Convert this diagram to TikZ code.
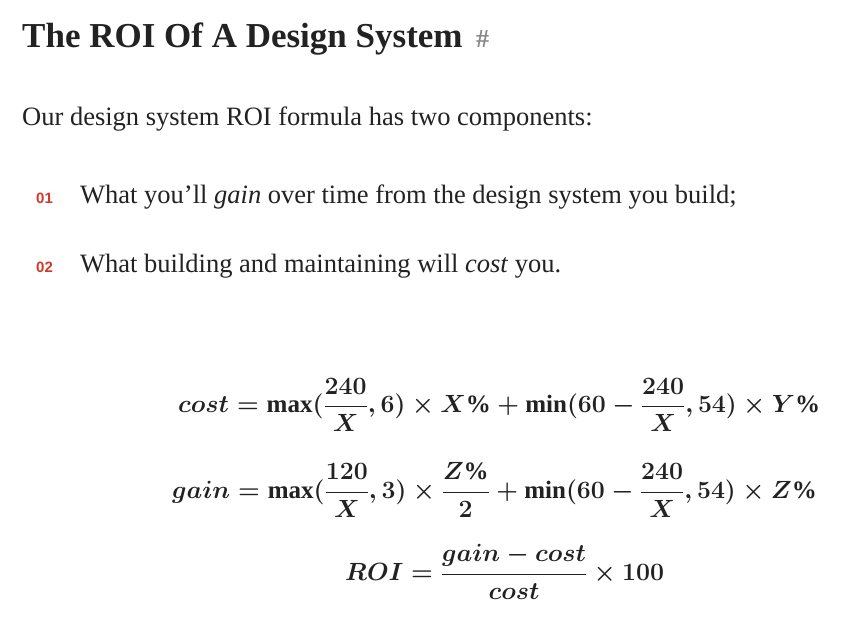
\documentclass[tikz,border=0pt]{standalone}
\usepackage{amsmath}
\usepackage{fontspec}
\setmainfont{Liberation Serif}
\setsansfont{Liberation Sans}
\definecolor{mark}{HTML}{D0392B}
\definecolor{txt}{HTML}{222222}
\definecolor{hash}{HTML}{888888}
\begin{document}
\begin{tikzpicture}[x=1pt,y=-1pt,
  body/.style={anchor=base west,inner sep=0,text=txt,font=\fontsize{26.5}{30}\selectfont},
  num/.style={anchor=base west,inner sep=0,text=mark,font=\sffamily\bfseries\fontsize{15}{17}\selectfont},
  eq/.style={anchor=west,inner sep=0,text=txt,font=\boldmath\fontsize{25}{30}\selectfont}]
\useasboundingbox[fill=white] (0,0) rectangle (853,625);
\node[anchor=base west,inner sep=0,text=txt,font=\bfseries\fontsize{35}{40}\selectfont] (h) at (22,47) {The ROI Of A Design System};
\node[anchor=base west,inner sep=0,text=hash,font=\bfseries\fontsize{26}{30}\selectfont] (hs) at (476,47) {\#};
\node[body] (intro) at (22,125) {Our design system ROI formula has two components:};
\node[num] (n1) at (36,203) {01};
\node[body] (t1) at (80,203) {What you’ll \textit{gain} over time from the design system you build;};
\node[num] (n2) at (36,272) {02};
\node[body] (t2) at (80,272) {What building and maintaining will \textit{cost} you.};
\node[eq] (e1) at (178,405) {$cost=\max(\dfrac{240}{X},6)\times X\%+\min(60-\dfrac{240}{X},54)\times Y\%$};
\node[eq] (e2) at (172,490) {$gain=\max(\dfrac{120}{X},3)\times \dfrac{Z\%}{2}+\min(60-\dfrac{240}{X},54)\times Z\%$};
\node[eq] (e3) at (345,572) {$ROI=\dfrac{gain-cost}{cost}\times 100$};
\end{tikzpicture}
\end{document}
